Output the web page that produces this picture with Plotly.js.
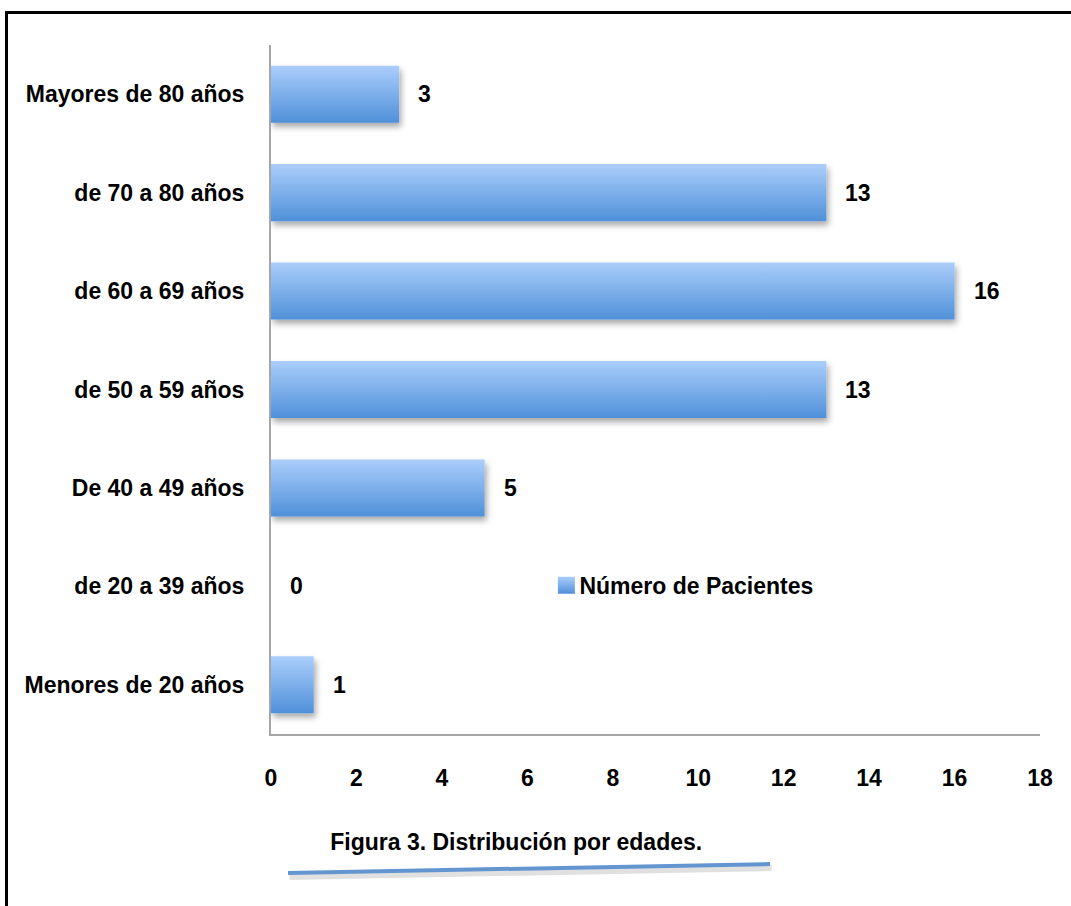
<!DOCTYPE html>
<html>
<head>
<meta charset="utf-8">
<script src="https://cdn.plot.ly/plotly-3.0.1.min.js"></script>
<style>
  html, body { margin: 0; padding: 0; background: #fff; }
  #wrap { position: relative; width: 1071px; height: 906px; overflow: hidden; }
  #chart { position: absolute; left: 0; top: 0; width: 1071px; height: 906px; }
  #frame {
    position: absolute; left: 5px; top: 11px; width: 1200px; height: 1000px;
    border-left: 3px solid #000; border-top: 3px solid #000;
    pointer-events: none;
  }
</style>
</head>
<body>
<div id="wrap">
  <div id="chart"></div>
  <div id="frame"></div>
</div>
<script>
// Age groups (bottom to top) and number of patients in each
const ageGroups = [
  'Menores de 20 años',
  'de 20 a 39 años',
  'De 40 a 49 años',
  'de 50 a 59 años',
  'de 60 a 69 años',
  'de 70 a 80 años',
  'Mayores de 80 años'
];
const patients = [1, 0, 5, 13, 16, 13, 3];
const seriesName = 'Número de Pacientes';
const chartTitle = 'Figura 3. Distribución por edades.';
const xTicks = [0, 2, 4, 6, 8, 10, 12, 14, 16, 18];

const FONT = '"Liberation Sans", Arial, sans-serif';
const FS = 23;

const trace = {
  type: 'bar',
  orientation: 'h',
  y: ageGroups,
  x: patients,
  name: seriesName,
  width: 0.58,
  marker: { color: '#7aaee8', line: { width: 0 } },
  hoverinfo: 'x+y',
  showlegend: true
};

// Value labels next to each bar end
const valueLabels = patients.map((v, i) => ({
  x: v, y: ageGroups[i], xref: 'x', yref: 'y',
  text: String(v), showarrow: false,
  xanchor: 'left', yanchor: 'middle', xshift: 17,
  font: { family: FONT, size: FS, color: '#000', weight: 'bold' }
}));

const layout = {
  width: 1071,
  height: 906,
  margin: { l: 271, r: 31, t: 45, b: 172, pad: 0 },
  paper_bgcolor: '#fff',
  plot_bgcolor: '#fff',
  font: { family: FONT, size: FS, color: '#000', weight: 'bold' },
  title: {
    text: chartTitle,
    x: 0.482, y: 0.071, xanchor: 'center', yanchor: 'middle',
    xref: 'container', yref: 'container',
    font: { family: FONT, size: FS, color: '#000', weight: 'bold' }
  },
  xaxis: {
    range: [0, 18],
    tickvals: xTicks,
    ticktext: xTicks.map(String),
    showgrid: false,
    zeroline: false,
    showline: true,
    linecolor: '#a6a6a6',
    linewidth: 2,
    ticks: 'outside',
    ticklen: 22,
    tickcolor: 'rgba(0,0,0,0)',
    tickfont: { family: FONT, size: FS, color: '#000', weight: 'bold' },
    fixedrange: true
  },
  yaxis: {
    type: 'category',
    categoryorder: 'array',
    categoryarray: ageGroups,
    range: [-0.5, 6.5],
    showgrid: false,
    zeroline: false,
    showline: true,
    linecolor: '#a6a6a6',
    linewidth: 2,
    ticks: 'outside',
    ticklen: 20,
    tickcolor: 'rgba(0,0,0,0)',
    tickfont: { family: FONT, size: FS, color: '#000', weight: 'bold' },
    fixedrange: true
  },
  showlegend: true,
  legend: {
    x: 0.349, y: 0.216, xanchor: 'left', yanchor: 'middle',
    xref: 'paper', yref: 'paper',
    bgcolor: 'rgba(0,0,0,0)',
    font: { family: FONT, size: FS, color: '#000', weight: 'bold' },
    itemwidth: 30
  },
  annotations: valueLabels,
  shapes: [
    // soft shadow under the decorative rule
    { type: 'line', xref: 'paper', yref: 'paper',
      x0: 0.024, y0: -0.2075, x1: 0.651, y1: -0.1945,
      line: { color: 'rgba(0,0,0,0.12)', width: 6 } },
    // decorative rule under the caption
    { type: 'line', xref: 'paper', yref: 'paper',
      x0: 0.0221, y0: -0.2017, x1: 0.6489, y1: -0.1887,
      line: { color: '#6396d0', width: 4 } }
  ]
};

Plotly.newPlot('chart', [trace], layout, { displayModeBar: false, staticPlot: true }).then(gd => {
  const svg = gd.querySelector('svg.main-svg');
  const defs = svg.querySelector('defs');
  const ns = 'http://www.w3.org/2000/svg';

  // vertical gradient for the bars
  const grad = document.createElementNS(ns, 'linearGradient');
  grad.setAttribute('id', 'barGrad');
  grad.setAttribute('x1', '0'); grad.setAttribute('y1', '0');
  grad.setAttribute('x2', '0'); grad.setAttribute('y2', '1');
  [['0%', '#abcefb'], ['100%', '#4f90d9']].forEach(([o, c]) => {
    const s = document.createElementNS(ns, 'stop');
    s.setAttribute('offset', o); s.setAttribute('stop-color', c);
    grad.appendChild(s);
  });
  defs.appendChild(grad);

  // drop shadow for the bars
  const filt = document.createElementNS(ns, 'filter');
  filt.setAttribute('id', 'barShadow');
  filt.setAttribute('x', '-10%'); filt.setAttribute('y', '-20%');
  filt.setAttribute('width', '130%'); filt.setAttribute('height', '160%');
  const ds = document.createElementNS(ns, 'feDropShadow');
  ds.setAttribute('dx', '2'); ds.setAttribute('dy', '4');
  ds.setAttribute('stdDeviation', '3');
  ds.setAttribute('flood-color', '#000'); ds.setAttribute('flood-opacity', '0.35');
  filt.appendChild(ds);
  defs.appendChild(filt);

  gd.querySelectorAll('.barlayer .point path').forEach(p => {
    p.style.fill = 'url(#barGrad)';
    p.style.filter = 'url(#barShadow)';
  });
  gd.querySelectorAll('.legend .legendpoints path').forEach(p => {
    p.setAttribute('d', 'M15.5,8.5H-1.5V-8.5H15.5Z');
    p.style.fill = 'url(#barGrad)';
  });
});
</script>
</body>
</html>
